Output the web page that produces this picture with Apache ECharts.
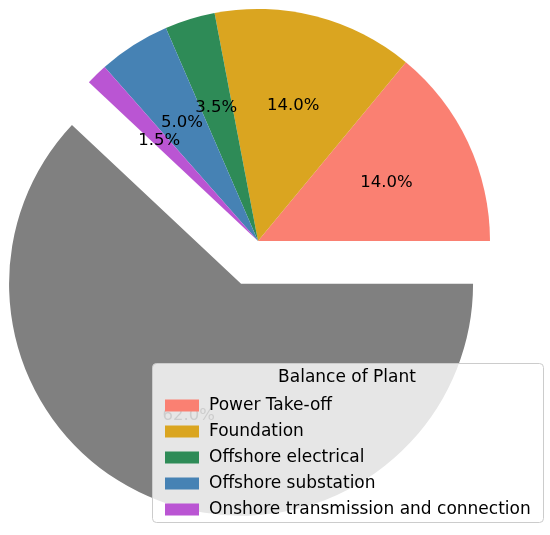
<!DOCTYPE html>
<html>
<head>
<meta charset="utf-8">
<script src="https://cdn.jsdelivr.net/npm/echarts@6/dist/echarts.min.js"></script>
<style>
html,body{margin:0;padding:0;background:#fff;}
#chart{width:550px;height:535px;}
</style>
</head>
<body>
<div id="chart"></div>
<script>
const categories = ['Power Take-off', 'Foundation', 'Offshore electrical', 'Offshore substation', 'Onshore transmission and connection', 'Other'];
const shares = [14.0, 14.0, 3.5, 5.0, 1.5, 62.0];
const colors = ['#FA8072', '#DAA520', '#2E8B57', '#4682B4', '#BA55D3', '#808080'];
const explodedName = 'Other';
const legendTitle = 'Balance of Plant';
const legendNames = categories.slice(0, 5);

const FONT = 'DejaVu Sans';
const CX = 258, CY = 241, R = 232, OFFSET = 46;

const pieData = categories.map((c, i) => ({
  name: c, value: shares[i], selected: c === explodedName,
  itemStyle: { color: colors[i] }
}));
const labelData = categories.map((c, i) => ({
  name: c, value: shares[i], selected: c === explodedName
}));

const chart = echarts.init(document.getElementById('chart'), null, { renderer: 'canvas' });
chart.setOption({
  animation: false,
  backgroundColor: '#ffffff',
  legend: {
    orient: 'vertical',
    left: 160, top: 392,
    icon: 'rect',
    itemWidth: 34, itemHeight: 12,
    itemGap: 9,
    selectedMode: false,
    z: 6,
    data: legendNames.map((n, i) => ({ name: n, itemStyle: { color: colors[i] } })),
    textStyle: { fontFamily: FONT, fontSize: 17, color: '#000', padding: [0, 0, 0, 5] }
  },
  graphic: [
    {
      type: 'rect', z: 5, silent: true,
      shape: { x: 152.5, y: 363.5, width: 391, height: 159, r: 4 },
      style: { fill: 'rgba(255,255,255,0.8)', stroke: '#cccccc', lineWidth: 1 }
    },
    {
      type: 'text', z: 7, silent: true,
      x: 347, y: 378,
      style: { text: legendTitle, font: '17px "DejaVu Sans"', fill: '#000', align: 'center', verticalAlign: 'middle' }
    }
  ],
  series: [
    {
      type: 'pie',
      silent: true,
      center: [CX, CY],
      radius: [0, R],
      startAngle: 0,
      clockwise: false,
      selectedMode: 'single',
      selectedOffset: OFFSET,
      avoidLabelOverlap: false,
      emphasis: { disabled: true },
      label: { show: false },
      labelLine: { show: false },
      itemStyle: { borderWidth: 0 },
      data: pieData
    },
    {
      type: 'pie',
      silent: true,
      center: [CX, CY],
      radius: [0, 278],
      startAngle: 0,
      clockwise: false,
      selectedMode: 'single',
      selectedOffset: OFFSET,
      avoidLabelOverlap: false,
      minShowLabelAngle: 0,
      labelLayout: { hideOverlap: false },
      emphasis: { disabled: true },
      itemStyle: { color: 'rgba(0,0,0,0)', borderWidth: 0 },
      label: {
        show: true, position: 'inside',
        fontFamily: FONT, fontSize: 16.5, color: '#000',
        offset: [0, 2],
        formatter: p => p.value.toFixed(1) + '%'
      },
      labelLine: { show: false },
      data: labelData
    }
  ]
});
</script>
</body>
</html>
